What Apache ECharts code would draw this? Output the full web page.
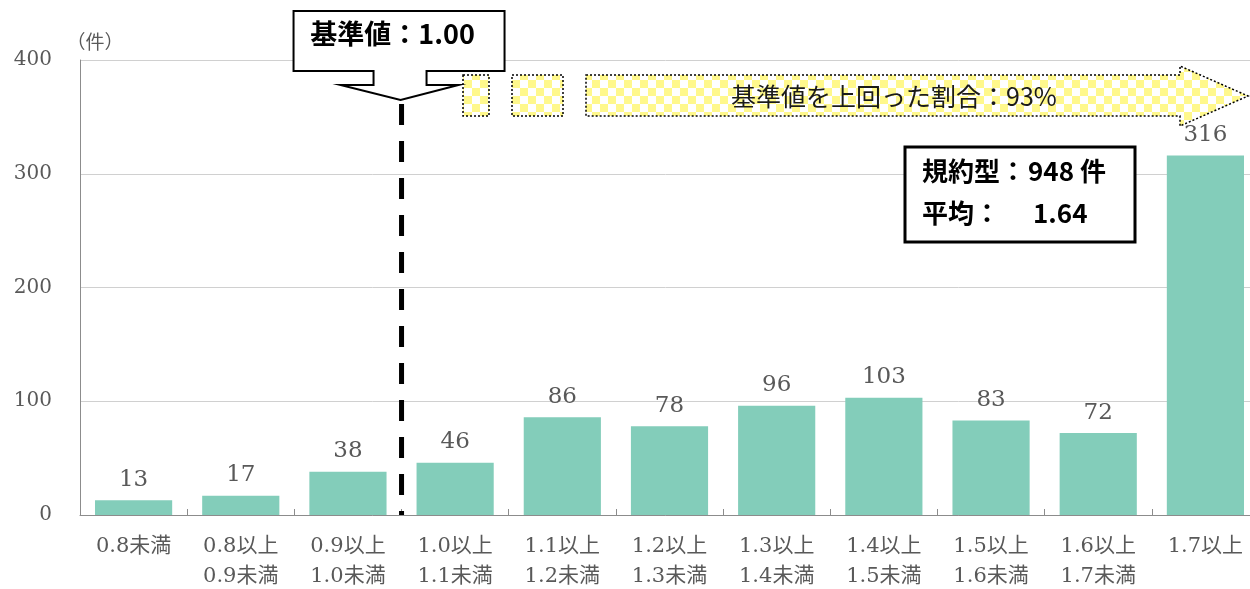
<!DOCTYPE html>
<html>
<head>
<meta charset="utf-8">
<script src="https://cdn.jsdelivr.net/npm/echarts@6/dist/echarts.min.js"></script>
<style>
  html, body { margin: 0; padding: 0; background: #fff; overflow: hidden; }
  #chart { width: 1250px; height: 589px; }
</style>
</head>
<body>
<div id="chart"></div>
<script>
// Distribution of cases by ratio band
const categories = [
  '0.8未満', '0.8以上\n0.9未満', '0.9以上\n1.0未満', '1.0以上\n1.1未満',
  '1.1以上\n1.2未満', '1.2以上\n1.3未満', '1.3以上\n1.4未満', '1.4以上\n1.5未満',
  '1.5以上\n1.6未満', '1.6以上\n1.7未満', '1.7以上'
];
const counts = [13, 17, 38, 46, 86, 78, 96, 103, 83, 72, 316];
const yTicks = [0, 100, 200, 300, 400];
const yUnit = '（件）';

// Baseline sits on the boundary between these two categories
const baselineLeftIdx = 2;
const baselineRightIdx = 3;
const baselineText = '基準値：1.00';
const shareText = '基準値を上回った割合：93%';
const summaryRows = [
  ['規約型：', '948 件'],
  ['平均：', '1.64']
];

const SERIF = '"DejaVu Serif", "Liberation Serif", "Noto Sans CJK JP", serif';
const GOTHIC = '"Noto Sans CJK JP", "Noto Sans", sans-serif';

const chart = echarts.init(document.getElementById('chart'), null, { renderer: 'canvas', width: 1250, height: 589 });

chart.setOption({
  animation: false,
  grid: {
    left: 80, right: -9, top: 60, bottom: 74,
    containLabel: false, outerBoundsMode: 'none'
  },
  xAxis: {
    type: 'category',
    data: categories,
    axisLine: { lineStyle: { color: '#8c8c8c', width: 1 } },
    axisTick: { show: true, inside: true, length: 6, lineStyle: { color: '#8c8c8c' } },
    axisLabel: {
      color: '#595959', fontFamily: SERIF, fontSize: 21, lineHeight: 30, margin: 17
    }
  },
  yAxis: {
    type: 'value',
    min: yTicks[0],
    max: yTicks[yTicks.length - 1],
    interval: 100,
    axisLine: { show: true, lineStyle: { color: '#8c8c8c', width: 1 } },
    axisTick: { show: false },
    axisLabel: { color: '#595959', fontFamily: SERIF, fontSize: 20, margin: 28 },
    splitLine: { lineStyle: { color: '#d0d0d0', width: 1 } }
  },
  series: [{
    type: 'bar',
    data: counts,
    barCategoryGap: '28%',
    itemStyle: { color: '#83cdba' },
    label: {
      show: true, position: 'top', distance: 9,
      color: '#595959', fontFamily: SERIF, fontSize: 23
    }
  }]
});

// Checkered fill used by the "share above baseline" arrow
function checkerPattern() {
  const c = document.createElement('canvas');
  c.width = 16; c.height = 16;
  const ctx = c.getContext('2d');
  ctx.fillStyle = '#ffffff';
  ctx.fillRect(0, 0, 16, 16);
  ctx.fillStyle = '#fff88c';
  ctx.fillRect(0, 0, 8, 8);
  ctx.fillRect(8, 8, 8, 8);
  return { image: c, repeat: 'repeat' };
}

function drawAnnotations() {
  const xL = chart.convertToPixel({ xAxisIndex: 0 }, categories[baselineLeftIdx]);
  const xR = chart.convertToPixel({ xAxisIndex: 0 }, categories[baselineRightIdx]);
  const bx = (xL + xR) / 2;
  const y0 = chart.convertToPixel({ yAxisIndex: 0 }, 0);
  const pattern = checkerPattern();
  const dotted = { stroke: '#000', lineWidth: 1.5, lineDash: [2, 2] };

  const apexY = 100;
  const callout = [
    [bx - 108, 11], [bx + 103, 11], [bx + 103, 71], [bx + 25, 71], [bx + 25, 85],
    [bx + 57, 85], [bx - 1, apexY], [bx - 61, 85], [bx - 28, 85], [bx - 28, 71],
    [bx - 108, 71]
  ];

  chart.setOption({
    graphic: [
      // unit label above the value axis
      {
        type: 'text', x: 95, y: 42,
        style: {
          text: yUnit, fill: '#595959', font: '19px ' + GOTHIC,
          align: 'center', verticalAlign: 'middle'
        }
      },
      // baseline marker
      {
        type: 'line', z: 10,
        shape: { x1: bx, y1: apexY + 4, x2: bx, y2: y0 },
        style: { stroke: '#000', lineWidth: 5, lineDash: [21, 16] }
      },
      {
        type: 'polygon', z: 11,
        shape: { points: callout },
        style: { fill: '#fff', stroke: '#000', lineWidth: 2 }
      },
      {
        type: 'text', z: 12, x: bx - 9, y: 34,
        style: {
          text: baselineText, fill: '#000', font: 'bold 27px ' + GOTHIC,
          align: 'center', verticalAlign: 'middle'
        }
      },
      // checkered arrow pointing right
      {
        type: 'rect', z: 10, shape: { x: 463, y: 75, width: 26, height: 41 },
        style: Object.assign({ fill: pattern }, dotted)
      },
      {
        type: 'rect', z: 10, shape: { x: 512, y: 75, width: 51, height: 41 },
        style: Object.assign({ fill: pattern }, dotted)
      },
      {
        type: 'polygon', z: 10,
        shape: { points: [[586, 75], [1180, 75], [1180, 66], [1248, 96], [1180, 126], [1180, 116], [586, 116]] },
        style: Object.assign({ fill: pattern }, dotted)
      },
      {
        type: 'text', z: 12, x: 894, y: 96,
        style: {
          text: shareText, fill: '#1a1a1a', font: '25px ' + GOTHIC,
          align: 'center', verticalAlign: 'middle'
        }
      },
      // summary box
      {
        type: 'rect', z: 10, shape: { x: 905, y: 147, width: 230, height: 95 },
        style: { fill: '#fff', stroke: '#000', lineWidth: 3 }
      },
      {
        type: 'text', z: 12, x: 922, y: 171,
        style: { text: summaryRows[0][0], fill: '#000', font: 'bold 26px ' + GOTHIC, verticalAlign: 'middle' }
      },
      {
        type: 'text', z: 12, x: 1028, y: 171,
        style: { text: summaryRows[0][1], fill: '#000', font: 'bold 26px ' + GOTHIC, verticalAlign: 'middle' }
      },
      {
        type: 'text', z: 12, x: 922, y: 213,
        style: { text: summaryRows[1][0], fill: '#000', font: 'bold 26px ' + GOTHIC, verticalAlign: 'middle' }
      },
      {
        type: 'text', z: 12, x: 1033, y: 213,
        style: { text: summaryRows[1][1], fill: '#000', font: 'bold 26px ' + GOTHIC, verticalAlign: 'middle' }
      }
    ]
  });
}

drawAnnotations();
</script>
</body>
</html>
